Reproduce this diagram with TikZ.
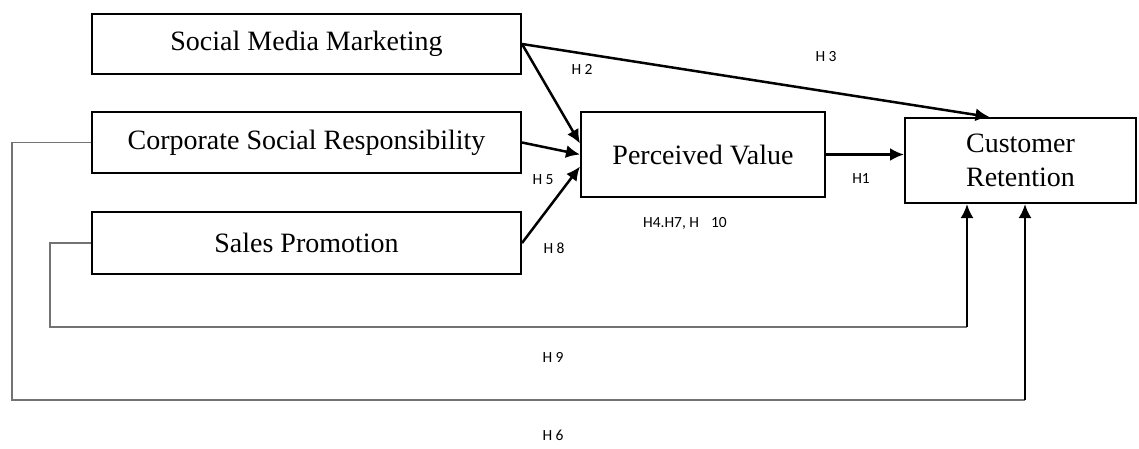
\documentclass[tikz,border=0pt]{standalone}
\usepackage{fontspec}
\setmainfont{Liberation Serif}
\newfontfamily\hfont{Carlito}
\usepackage{tikz}
\usetikzlibrary{arrows.meta,positioning}

\begin{document}
\begin{tikzpicture}[
            x=1pt,y=-1pt,
            var/.style={
              draw,
              line width=2pt,
              inner sep=0pt,
              align=center,
              font=\fontsize{28}{34}\selectfont
            },
            hyp/.style={
              font=\hfont\fontsize{15.5}{18}\selectfont,
              inner sep=0pt
            },
            path/.style={
              line width=2.5pt,
              -{Latex[length=14pt,width=13pt]}
            },
            loop/.style={
              line width=1.5pt,
              draw=black!55
            }
            ]
            \useasboundingbox (0,0) rectangle (1139,448);
            \node[var,minimum width=429pt,minimum height=60pt] at (306.5,44)
              (smm) {Social Media Marketing};
            \node[var,minimum width=429pt,minimum height=61pt] at (306.5,142.5)
              (csr) {Corporate Social Responsibility};
            \node[var,minimum width=429pt,minimum height=62pt] at (306.5,243)
              (sp) {Sales Promotion};
            \node[var,minimum width=244pt,minimum height=85pt] at (703,154.5)
              (pv) {Perceived Value};
            \node[var,minimum width=231pt,minimum height=85pt] at (1020.5,160.5)
              (cr) {Customer\\Retention};

            \draw[path] (smm.east) -- ([yshift=11pt]pv.west);
            \draw[path] (csr.east) -- (pv.west);
            \draw[path] (sp.east) -- ([yshift=-12pt]pv.west);
            \draw[path] (smm.east) -- ([xshift=-31pt]cr.north);
            \draw[path] (pv.east) -- (pv.east -| cr.west);

            % feedback lines from the left
            \coordinate (h9a) at (50,327);
            \coordinate (h9b) at (967,327);
            \coordinate (h6a) at (12,400);
            \coordinate (h6b) at (1025,400);
            \draw[loop] (sp.west) -| (h9a) -- (h9b);
            \draw[loop] (csr.west) -| (h6a) -- (h6b);
            \draw[path] (h9b) -- (h9b |- cr.south);
            \draw[path] (h6b) -- (h6b |- cr.south);

            \node[hyp] at (582,69) (h2) {H 2};
            \node[hyp] at (826,57) (h3) {H 3};
            \node[hyp] at (543,180) (h5) {H 5};
            \node[hyp] at (554,248) (h8) {H 8};
            \node[hyp] at (861,179) (h1) {H1};
            \node[hyp] at (685,223) (h4) {H4.H7, H\hspace{12pt}10};
            \node[hyp] at (553,357) (h9) {H 9};
            \node[hyp] at (553,435) (h6) {H 6};
        \end{tikzpicture}
\end{document}
